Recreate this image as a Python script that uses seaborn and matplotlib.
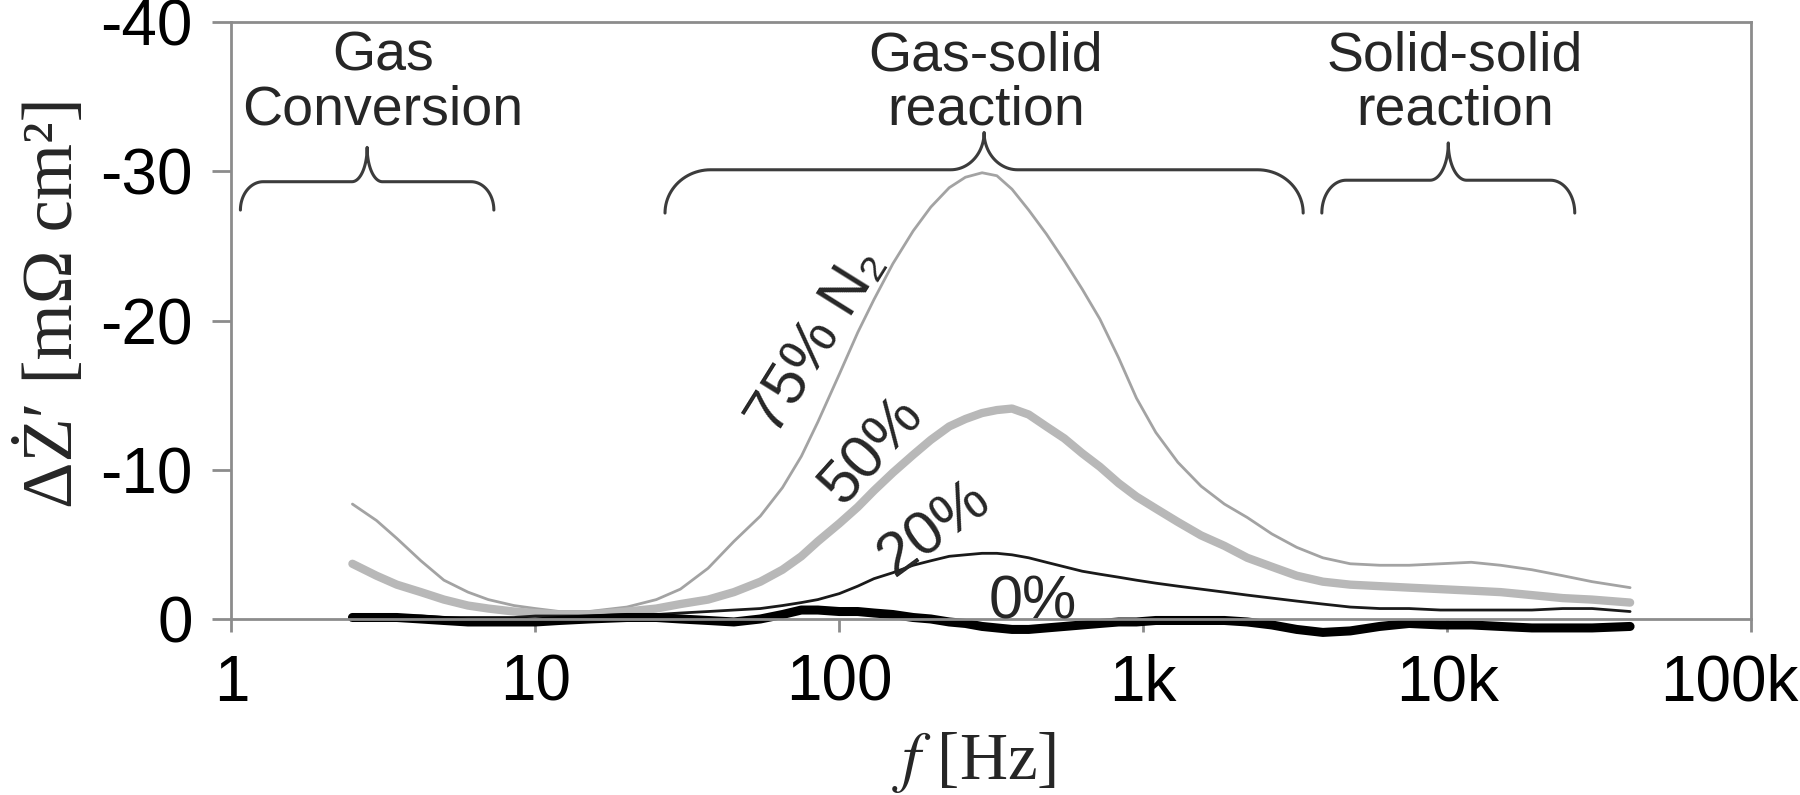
import numpy as np
import pandas as pd
import seaborn as sns
import matplotlib.pyplot as plt
import matplotlib.transforms as mtransforms
from matplotlib.ticker import FixedLocator, NullLocator

# frequency grid [Hz] and delta Z' [mOhm cm2]
freq = [2.5, 3, 3.5, 4.2, 5, 6, 7, 8.5, 10, 12, 15, 20, 25, 30, 37, 45, 55,
        65, 75, 85, 100, 115, 130, 150, 175, 200, 230, 260, 295, 330, 370,
        420, 480, 550, 630, 720, 830, 950, 1100, 1300, 1550, 1850, 2200,
        2650, 3200, 3900, 4800, 6000, 7500, 9500, 12000, 15000, 19000, 24000,
        30000, 40000]
dz_75 = [-7.7, -6.6, -5.4, -3.9, -2.6, -1.8, -1.3, -0.9, -0.7, -0.5, -0.5,
         -0.8, -1.3, -2.0, -3.4, -5.2, -6.9, -8.8, -10.9, -13.2, -16.4, -19.2,
         -21.4, -23.8, -26.0, -27.6, -28.9, -29.6, -29.9, -29.7, -28.8, -27.4,
         -25.8, -24.0, -22.1, -20.1, -17.5, -14.8, -12.5, -10.5, -8.9, -7.7,
         -6.8, -5.7, -4.8, -4.1, -3.7, -3.6, -3.6, -3.7, -3.8, -3.6, -3.3,
         -2.9, -2.5, -2.1]
dz_50 = [-3.7, -2.9, -2.3, -1.8, -1.3, -0.9, -0.7, -0.5, -0.4, -0.3, -0.3,
         -0.5, -0.7, -1.0, -1.3, -1.8, -2.5, -3.3, -4.2, -5.2, -6.4, -7.5,
         -8.6, -9.8, -11.0, -12.0, -12.9, -13.4, -13.8, -14.0, -14.1, -13.7,
         -12.9, -12.1, -11.1, -10.2, -9.1, -8.2, -7.4, -6.5, -5.6, -4.9, -4.1,
         -3.5, -2.9, -2.5, -2.3, -2.2, -2.1, -2.0, -1.9, -1.8, -1.6, -1.4,
         -1.3, -1.1]
dz_20 = [-0.3, -0.3, -0.2, -0.2, -0.1, -0.1, -0.1, -0.1, -0.2, -0.2, -0.2,
         -0.3, -0.3, -0.4, -0.5, -0.6, -0.7, -0.9, -1.1, -1.3, -1.7, -2.2,
         -2.7, -3.1, -3.6, -3.9, -4.2, -4.3, -4.4, -4.4, -4.3, -4.1, -3.8,
         -3.5, -3.2, -3.0, -2.8, -2.6, -2.4, -2.2, -2.0, -1.8, -1.6, -1.4,
         -1.2, -1.0, -0.8, -0.7, -0.7, -0.6, -0.6, -0.6, -0.6, -0.7, -0.7,
         -0.5]
dz_0 = [-0.1, -0.1, -0.1, 0.0, 0.1, 0.2, 0.2, 0.2, 0.2, 0.1, 0.0, -0.1,
        -0.1, 0.0, 0.1, 0.2, 0.0, -0.3, -0.6, -0.6, -0.5, -0.5, -0.4, -0.3,
        -0.1, 0.0, 0.2, 0.3, 0.5, 0.6, 0.7, 0.7, 0.6, 0.5, 0.4, 0.3, 0.2,
        0.2, 0.1, 0.1, 0.1, 0.1, 0.2, 0.4, 0.7, 0.9, 0.8, 0.5, 0.3, 0.4, 0.4,
        0.5, 0.6, 0.6, 0.6, 0.5]

series = ["75%", "50%", "20%", "0%"]
x_ticks = [1, 10, 100, 1e3, 1e4, 1e5]
x_tick_labels = ["1", "10", "100", "1k", "10k", "100k"]
y_ticks = [0, -10, -20, -30, -40]
y_tick_labels = ["0", "-10", "-20", "-30", "-40"]

# process regions marked with braces
regions = ["Gas\nConversion", "Gas-solid\nreaction", "Solid-solid\nreaction"]
region_lo = [1.07, 26.7, 3870]
region_hi = [7.3, 3360, 26300]

df = pd.DataFrame({
    "f": freq * 4,
    "dz": dz_75 + dz_50 + dz_20 + dz_0,
    "N2": [s for s in series for _ in freq],
})

sns.set_theme(style="white")
plt.rcParams["font.family"] = ["Liberation Sans", "DejaVu Sans"]
plt.rcParams["mathtext.fontset"] = "stix"

fig = plt.figure(figsize=(18, 7.95), dpi=100)
ax = fig.add_axes([0.1286, 0.2214, 0.8442, 0.7509])

styles = {"75%": ("#a3a3a3", 2.0), "50%": ("#b8b8b8", 6.0),
          "20%": ("#1a1a1a", 2.0), "0%": ("#000000", 6.5)}
for name in series:
    c, lw = styles[name]
    sns.lineplot(data=df[df["N2"] == name], x="f", y="dz", color=c,
                 linewidth=lw, ax=ax, clip_on=False, legend=False)

ax.set_xscale("log")
ax.set_xlim(1, 1e5)
ax.set_ylim(0, -40)
ax.xaxis.set_major_locator(FixedLocator(x_ticks))
ax.xaxis.set_minor_locator(NullLocator())
ax.set_xticklabels(x_tick_labels)
ax.yaxis.set_major_locator(FixedLocator(y_ticks))
ax.set_yticklabels(y_tick_labels)

spine_c = "#8c8c8c"
for s in ax.spines.values():
    s.set_color(spine_c)
    s.set_linewidth(2.0)
ax.tick_params(axis="x", length=9, width=2, color=spine_c, pad=16,
               labelsize=46, labelcolor="black", bottom=True)
ax.tick_params(axis="y", length=14, width=2, color=spine_c, pad=14,
               labelsize=46, labelcolor="black", left=True)

# last tick label sits at the figure edge, nudge it in a little
lab = ax.get_xticklabels()[-1]
lab.set_transform(lab.get_transform()
                  + mtransforms.ScaledTranslation(-0.22, 0, fig.dpi_scale_trans))

ax.set_xlabel(r"$f$ [Hz]", fontsize=48, family=["Liberation Serif", "DejaVu Serif"])
ax.xaxis.set_label_coords(0.489, -0.186)
ax.xaxis.label.set_va("top")
ax.set_ylabel("ΔŻ′ [mΩ cm²]", fontsize=52, family=["Liberation Serif", "DejaVu Serif"])
ax.yaxis.set_label_coords(-0.095, 0.53)

# braces over the frequency regions
def brace(lo, hi, y_end, y_flat, y_tip, rx, rt):
    u0, u1 = np.log10(lo), np.log10(hi)
    um = (u0 + u1) / 2
    t = np.linspace(0, np.pi / 2, 25)
    lu = np.concatenate([u0 + rx * (1 - np.cos(t)), um - rt + rt * np.sin(t)])
    ly = np.concatenate([y_end + (y_flat - y_end) * np.sin(t),
                         y_flat + (y_tip - y_flat) * (1 - np.cos(t))])
    u = np.concatenate([lu, (2 * um - lu)[::-1]])
    y = np.concatenate([ly, ly[::-1]])
    ax.plot(10 ** u, y, color="#3c3c3c", lw=2.2, solid_capstyle="round")

brace_geom = [(-27.4, -29.3, -31.6, 0.075, 0.05),
              (-27.2, -30.1, -32.6, 0.15, 0.11),
              (-27.2, -29.4, -31.9, 0.08, 0.06)]
label_x = [3.15, 304, 10600]
for name, lo, hi, g, lx in zip(regions, region_lo, region_hi, brace_geom, label_x):
    brace(lo, hi, *g)
    ax.text(lx, -35.9, name, ha="center", va="center", fontsize=40,
            linespacing=1.05)

# curve labels
ax.text(85, -18.6, "75% N₂", rotation=58, rotation_mode="anchor",
        ha="center", va="center", fontsize=44)
ax.text(129, -11.3, "50%", rotation=48, rotation_mode="anchor",
        ha="center", va="center", fontsize=44)
ax.text(206, -6.0, "20%", rotation=36, rotation_mode="anchor",
        ha="center", va="center", fontsize=44)
ax.text(434, -1.1, "0%", rotation=0, rotation_mode="anchor",
        ha="center", va="center", fontsize=44)

fig.savefig("out.png", dpi=100)
